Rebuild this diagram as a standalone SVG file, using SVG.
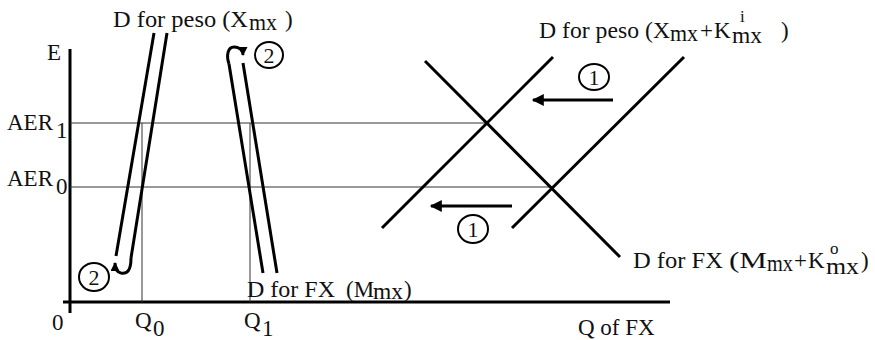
<svg xmlns="http://www.w3.org/2000/svg" width="875" height="340" viewBox="0 0 875 340">
<style>
text{font-family:"Liberation Serif","Times New Roman",serif;font-size:23px;fill:#111}
.num{font-size:22px;text-anchor:middle}
.sm{font-size:17px}
.thick{stroke:#000;stroke-width:3;fill:none}
.thin{stroke:#333;stroke-width:1;fill:none}
.circ{stroke:#000;stroke-width:2;fill:#fff}
</style>
<defs>
<marker id="ah" viewBox="0 0 10 10" refX="9" refY="5" markerWidth="5" markerHeight="4" orient="auto" markerUnits="strokeWidth"><path d="M0,0 L10,5 L0,10 Z" fill="#000"/></marker>
<marker id="ahs" viewBox="0 0 10 10" refX="9" refY="5" markerWidth="3.5" markerHeight="3" orient="auto" markerUnits="strokeWidth"><path d="M0,0 L10,5 L0,10 Z" fill="#000"/></marker>
</defs>
<g id="axes">
<line class="thick" x1="70" y1="49" x2="70" y2="313"/>
<line class="thick" x1="63" y1="302" x2="670" y2="302"/>
<text x="47" y="60">E</text>
<text x="52" y="330">0</text>
<text x="578" y="335">Q of FX</text>
</g>
<g id="guides">
<line class="thin" x1="70" y1="123" x2="487" y2="123"/>
<line class="thin" x1="70" y1="187" x2="552" y2="187"/>
<line class="thin" x1="142" y1="123" x2="142" y2="302"/>
<line class="thin" x1="250" y1="123" x2="250" y2="302"/>
<text x="7" y="130">AER</text><text x="56" y="138">1</text>
<text x="7" y="186">AER</text><text x="56" y="194">0</text>
<text x="135" y="328">Q</text><text x="153" y="336">0</text>
<text x="244" y="328">Q</text><text x="262" y="336">1</text>
</g>
<g id="d-peso-xmx">
<line class="thick" x1="154" y1="33" x2="116" y2="256"/>
<line class="thick" x1="167" y1="33" x2="131" y2="258"/>
<text x="113" y="27" textLength="135" lengthAdjust="spacingAndGlyphs">D for peso (X</text>
<text x="249" y="30" textLength="28" lengthAdjust="spacingAndGlyphs">mx</text>
<text x="285" y="27">)</text>
</g>
<g id="d-fx-mmx">
<line class="thick" x1="229" y1="64" x2="263" y2="273"/>
<line class="thick" x1="243" y1="63" x2="277" y2="273"/>
<text x="247" y="297" textLength="88" lengthAdjust="spacingAndGlyphs">D for FX</text>
<text x="346" y="297" textLength="28" lengthAdjust="spacingAndGlyphs">(M</text>
<text x="373" y="299" textLength="30" lengthAdjust="spacingAndGlyphs">mx</text>
<text x="404" y="297">)</text>
</g>
<g id="d-peso-xk">
<line class="thick" x1="553" y1="57" x2="382" y2="228"/>
<line class="thick" x1="684" y1="57" x2="512" y2="228"/>
<text x="539" y="38" textLength="131" lengthAdjust="spacingAndGlyphs">D for peso (X</text>
<text x="670" y="41" textLength="28" lengthAdjust="spacingAndGlyphs">mx</text>
<text x="700" y="38">+</text>
<text x="714" y="38">K</text>
<text class="sm" x="740" y="22">i</text>
<text x="732" y="43" textLength="30" lengthAdjust="spacingAndGlyphs">mx</text>
<text x="781" y="38">)</text>
</g>
<g id="d-fx-mk">
<line class="thick" x1="425" y1="61" x2="620" y2="257"/>
<text x="633" y="268" textLength="90" lengthAdjust="spacingAndGlyphs">D for FX</text>
<text x="729" y="268" textLength="38" lengthAdjust="spacingAndGlyphs">(M</text>
<text x="767" y="271" textLength="26" lengthAdjust="spacingAndGlyphs">mx</text>
<text x="794" y="268">+</text>
<text x="808" y="268">K</text>
<text class="sm" x="830" y="254">o</text>
<text x="826" y="274" textLength="33" lengthAdjust="spacingAndGlyphs">mx</text>
<text x="861" y="268">)</text>
</g>
<g id="connectors">
<path class="thick" d="M131,258 C131,271 127,274 121,273 C116,272 115,268 115,263" stroke-width="2.5" marker-end="url(#ahs)"/>
<path class="thick" d="M229,64 C226,55 228,47 234,47 C240,47 243,51 243,55" stroke-width="2.5" marker-end="url(#ahs)"/>
<line class="thick" x1="613" y1="100" x2="533" y2="100" marker-end="url(#ah)"/>
<line class="thick" x1="512" y1="206" x2="431" y2="206" marker-end="url(#ah)"/>
</g>
<g id="mark-2-top"><ellipse class="circ" cx="269" cy="55" rx="14" ry="13"/><text class="num" x="269" y="63">2</text></g>
<g id="mark-2-bottom"><ellipse class="circ" cx="94" cy="277" rx="15" ry="14"/><text class="num" x="94" y="285">2</text></g>
<g id="mark-1-top"><ellipse class="circ" cx="594" cy="77" rx="15" ry="13"/><text class="num" x="594" y="85">1</text></g>
<g id="mark-1-bottom"><ellipse class="circ" cx="473" cy="229" rx="15" ry="14"/><text class="num" x="473" y="237">1</text></g>
</svg>
